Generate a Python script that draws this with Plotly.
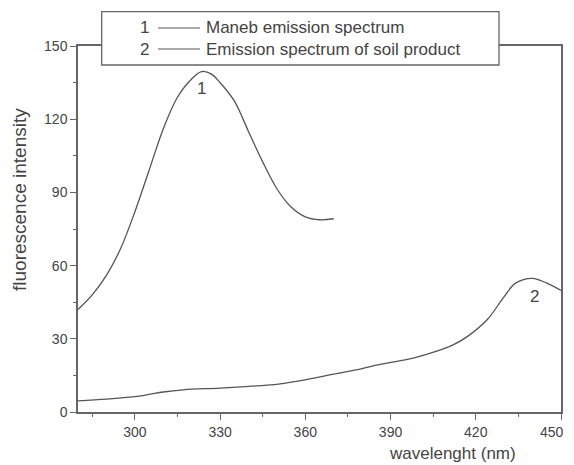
import plotly.graph_objects as go

# Curve 1: Maneb emission spectrum
wl1 = [280, 285, 290, 295, 300, 305, 310, 315, 320, 323.5, 327, 330, 335, 340, 345, 350, 355, 360, 365, 370]
int1 = [42, 48, 56, 67, 82, 99, 116, 129, 136.5, 139.5, 138.5, 135, 127.5, 115, 102.5, 91.5, 84, 80, 78.8, 79.2]

# Curve 2: Emission spectrum of soil product
wl2 = [280, 290, 300, 305, 310, 317, 330, 340, 349, 355, 360, 370, 380, 386, 398, 406, 412, 417, 424, 430, 434, 440, 445, 450]
int2 = [4.6, 5.3, 6.3, 7.2, 8.2, 9.1, 9.8, 10.5, 11.2, 12.2, 13.2, 15.5, 17.8, 19.4, 22.1, 24.8, 27.5, 30.9, 37.8, 47.3, 52.8, 54.8, 52.8, 49.8]

x_ticks = [300, 330, 360, 390, 420, 450]
y_ticks = [0, 30, 60, 90, 120, 150]

legend_labels = ["Maneb emission spectrum", "Emission spectrum of soil product"]
curve_ids = ["1", "2"]

FONT = "Liberation Sans, Arial, sans-serif"
TXT = "#444444"
LINE = "#555555"
AX = "#666666"

fig = go.Figure()
fig.add_trace(go.Scatter(x=wl1, y=int1, mode="lines", line=dict(color=LINE, width=1.3, shape="spline"),
                         name=legend_labels[0], showlegend=False))
fig.add_trace(go.Scatter(x=wl2, y=int2, mode="lines", line=dict(color=LINE, width=1.3, shape="spline"),
                         name=legend_labels[1], showlegend=False))

axis_common = dict(showline=True, linecolor=AX, linewidth=1.5, mirror=True, showgrid=False, zeroline=False,
                   automargin=False,
                   ticks="outside", ticklen=6, tickwidth=1.2, tickcolor=AX,
                   tickfont=dict(family=FONT, size=14, color=TXT),
                   minor=dict(ticks="outside", ticklen=3, tickwidth=1.2, tickcolor=AX, dtick=15))

# last x label is drawn as an annotation so it is not clipped at the window edge
x_text = [str(v) for v in x_ticks[:-1]] + [""]
fig.update_xaxes(range=[280, 450], tickmode="array", tickvals=x_ticks, ticktext=x_text, **axis_common)
fig.update_yaxes(range=[0, 150], tickmode="array", tickvals=y_ticks,
                 ticktext=[str(v) for v in y_ticks], **axis_common)

# the page body has an 8px margin, so the figure sits at (8, 8) in the window
OFF = 8
W, H = 566, 457
L, R, T, B = 70, 13, 38, 53
pw, ph = W - L - R, H - T - B

def px(x):  # window pixel -> paper x
    return (x - OFF - L) / pw

def py(y):  # window pixel -> paper y
    return (H - B - (y - OFF)) / ph

fig.add_annotation(xref="paper", yref="paper", x=px(566), y=py(432), text=str(x_ticks[-1]), showarrow=False,
                   xanchor="right", yanchor="middle", font=dict(family=FONT, size=14, color=TXT))

# legend box
fig.add_shape(type="rect", xref="paper", yref="paper", x0=px(101.7), x1=px(499), y0=py(65), y1=py(11.7),
              line=dict(color=AX, width=1.3), fillcolor="white", layer="above")
rows_y = [28, 49]
for cid, lab, ry in zip(curve_ids, legend_labels, rows_y):
    fig.add_annotation(xref="paper", yref="paper", x=px(151), y=py(ry), text=cid, showarrow=False,
                       xanchor="right", yanchor="middle", font=dict(family=FONT, size=17, color=TXT))
    fig.add_shape(type="line", xref="paper", yref="paper", x0=px(158), x1=px(200), y0=py(ry), y1=py(ry),
                  line=dict(color=LINE, width=1.2), layer="above")
    fig.add_annotation(xref="paper", yref="paper", x=px(204), y=py(ry), text=lab, showarrow=False,
                       xanchor="left", yanchor="middle", font=dict(family=FONT, size=17, color=TXT))

# curve labels
fig.add_annotation(x=323.6, y=132.7, text=curve_ids[0], showarrow=False,
                   font=dict(family=FONT, size=17, color=TXT))
fig.add_annotation(x=440.5, y=47.2, text=curve_ids[1], showarrow=False,
                   font=dict(family=FONT, size=17, color=TXT))

# axis titles
fig.add_annotation(xref="paper", yref="paper", x=px(452), y=py(453), text="wavelenght (nm)", showarrow=False,
                   xanchor="center", yanchor="middle", font=dict(family=FONT, size=17, color=TXT))
fig.add_annotation(xref="paper", yref="paper", x=px(19), y=py(200), text="fluorescence intensity", showarrow=False,
                   textangle=-90, xanchor="center", yanchor="middle", font=dict(family=FONT, size=19, color=TXT))

fig.update_layout(width=W, height=H, margin=dict(l=L, r=R, t=T, b=B),
                  plot_bgcolor="white", paper_bgcolor="white", showlegend=False)

fig.write_html("out.html")
